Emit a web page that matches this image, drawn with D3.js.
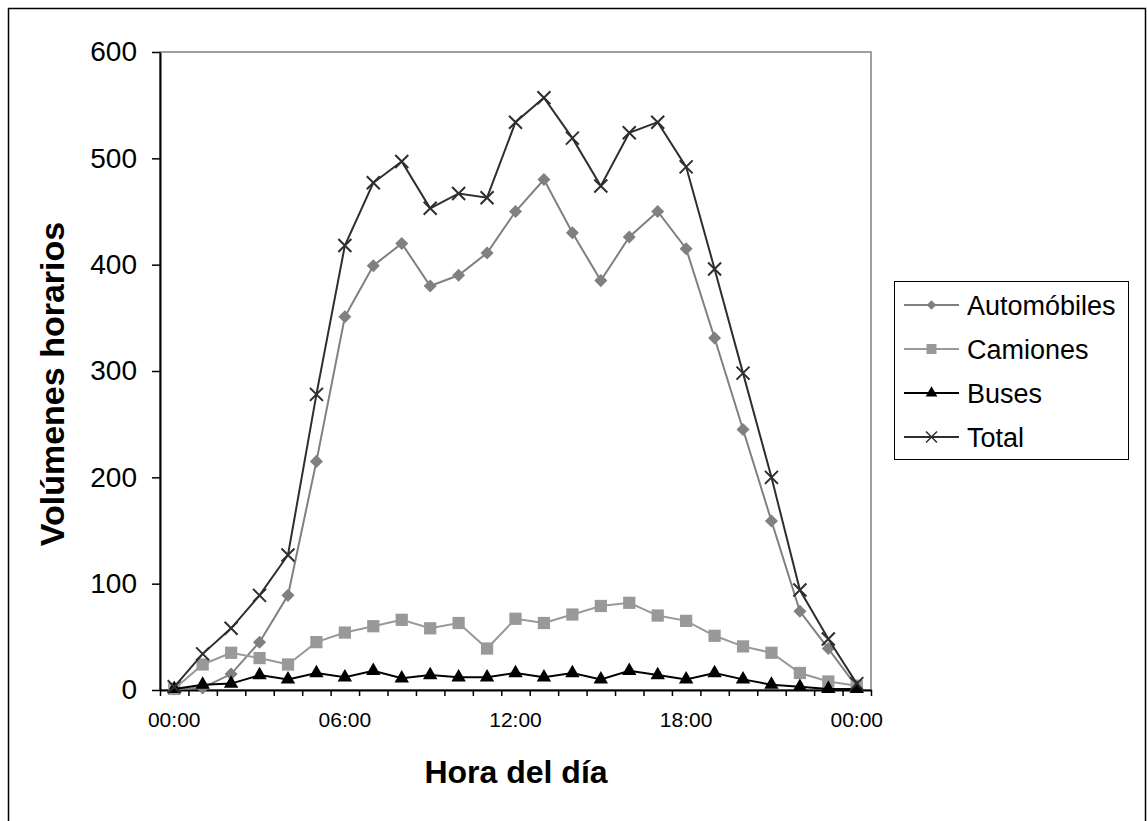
<!DOCTYPE html>
<html>
<head>
<meta charset="utf-8">
<script src="https://cdn.jsdelivr.net/npm/d3@7"></script>
<style>
  body { margin: 0; background: #fff; }
  text { font-family: "Liberation Sans", Arial, sans-serif; }
</style>
</head>
<body>
<script>
// horas del dia (0..24) y volumenes
const horas = d3.range(0, 25)
const hourTicks = [0, 6, 12, 18, 24]
const hourLabels = ["00:00", "06:00", "12:00", "18:00", "00:00"]
const yTicks = [0, 100, 200, 300, 400, 500, 600]

const automoviles = [1, 2, 15, 45, 89, 215, 351, 399, 420, 380, 390, 411, 450, 480, 430, 385, 426, 450, 415, 331, 245, 159, 74, 39, 3]
const camiones    = [1, 24, 35, 30, 24, 45, 54, 60, 66, 58, 63, 39, 67, 63, 71, 79, 82, 70, 65, 51, 41, 35, 16, 8, 4]
const buses       = [1, 5, 6, 14, 10, 16, 12, 18, 11, 14, 12, 12, 16, 12, 16, 10, 18, 14, 10, 16, 10, 5, 3, 1, 1]
const total       = [3, 34, 58, 89, 127, 278, 418, 477, 497, 453, 467, 463, 534, 557, 519, 474, 524, 534, 492, 396, 298, 200, 94, 48, 6]

const width = 1147, height = 821
const svg = d3.select("body").append("svg").attr("width", width).attr("height", height)

// marco exterior
svg.append("rect").attr("x", 8.5).attr("y", 8.5).attr("width", 1137).attr("height", 840)
  .attr("fill", "none").attr("stroke", "#000").attr("stroke-width", 1.5)

const pLeft = 160, pRight = 871, pTop = 52, pBottom = 690

const x = d3.scaleLinear().domain([-0.5, 24.5]).range([pLeft, pRight])
const y = d3.scaleLinear().domain([0, 600]).range([pBottom, pTop])

// area del grafico
svg.append("rect").attr("x", pLeft).attr("y", pTop).attr("width", pRight - pLeft).attr("height", pBottom - pTop)
  .attr("fill", "none").attr("stroke", "#808080").attr("stroke-width", 1.5)

// eje y
const yAxis = svg.append("g").attr("transform", "translate(" + pLeft + ",0)")
  .call(d3.axisLeft(y).tickValues(yTicks).tickSize(8).tickPadding(15).tickSizeOuter(0))
yAxis.select(".domain").attr("stroke", "#000").attr("stroke-width", 2)
yAxis.selectAll(".tick line").attr("stroke", "#000").attr("stroke-width", 1.5)
yAxis.selectAll("text").attr("font-size", 28).attr("fill", "#000")
  .style("font-family", "'Liberation Sans', Arial, sans-serif")

// eje x (marcas entre categorias)
const bounds = d3.range(0, 26).map(d => d - 0.5)
const xAxis = svg.append("g").attr("transform", "translate(0," + pBottom + ")")
  .call(d3.axisBottom(x).tickValues(bounds).tickSize(6).tickSizeOuter(0).tickFormat(""))
xAxis.select(".domain").attr("stroke", "#000").attr("stroke-width", 2)
xAxis.selectAll(".tick line").attr("stroke", "#000").attr("stroke-width", 1.5)

svg.selectAll(".hlabel").data(hourTicks).enter().append("text")
  .attr("class", "hlabel")
  .attr("x", d => x(d)).attr("y", 727)
  .attr("text-anchor", "middle").attr("font-size", 21)
  .text((d, i) => hourLabels[i])

// titulos
svg.append("text").attr("x", 516).attr("y", 783).attr("text-anchor", "middle")
  .attr("font-size", 32).attr("font-weight", "bold").text("Hora del día")
svg.append("text").attr("transform", "translate(64,384) rotate(-90)").attr("text-anchor", "middle")
  .attr("font-size", 34).attr("font-weight", "bold").text("Volúmenes horarios")

// marcadores (grafico y leyenda)
const mk = (type, size) => d3.symbol().type(type).size(size)()
const xMark = r => "M" + (-r) + "," + (-r) + "L" + r + "," + r + "M" + (-r) + "," + r + "L" + r + "," + (-r)

const series = [
  { name: "Automóbiles", values: automoviles, color: "#808080", path: mk(d3.symbolSquare, 85), lpath: mk(d3.symbolSquare, 45), rot: 45, fill: true },
  { name: "Camiones", values: camiones, color: "#999999", path: mk(d3.symbolSquare, 150), lpath: mk(d3.symbolSquare, 100), rot: 0, fill: true },
  { name: "Buses", values: buses, color: "#000000", path: mk(d3.symbolTriangle, 90), lpath: mk(d3.symbolTriangle, 60), rot: 0, fill: true },
  { name: "Total", values: total, color: "#2e2e2e", path: xMark(6.5), lpath: xMark(5.5), rot: 0, fill: false }
]

const line = d3.line().x((d, i) => x(horas[i])).y(d => y(d))

series.forEach(s => {
  const g = svg.append("g")
  g.append("path").attr("d", line(s.values)).attr("fill", "none")
    .attr("stroke", s.color).attr("stroke-width", 2)
  g.selectAll("path.m").data(s.values).enter().append("path")
    .attr("class", "m")
    .attr("d", s.path)
    .attr("transform", (d, i) => "translate(" + x(horas[i]) + "," + y(d) + ") rotate(" + s.rot + ")")
    .attr("fill", s.fill ? s.color : "none")
    .attr("stroke", s.color).attr("stroke-width", s.fill ? 0 : 2)
})

// leyenda
const legend = svg.append("g")
legend.append("rect").attr("x", 894.5).attr("y", 281.5).attr("width", 234).attr("height", 178)
  .attr("fill", "#fff").attr("stroke", "#000").attr("stroke-width", 1)
series.forEach((s, i) => {
  const cy = 305 + i * 44
  legend.append("line").attr("x1", 904).attr("x2", 959).attr("y1", cy).attr("y2", cy)
    .attr("stroke", s.color).attr("stroke-width", 2)
  legend.append("path").attr("d", s.lpath)
    .attr("transform", "translate(931.5," + cy + ") rotate(" + s.rot + ")")
    .attr("fill", s.fill ? s.color : "none")
    .attr("stroke", s.color).attr("stroke-width", s.fill ? 0 : 1.5)
  legend.append("text").attr("x", 967).attr("y", cy).attr("dy", "0.36em")
    .attr("font-size", 27).text(s.name)
})
</script>
</body>
</html>
